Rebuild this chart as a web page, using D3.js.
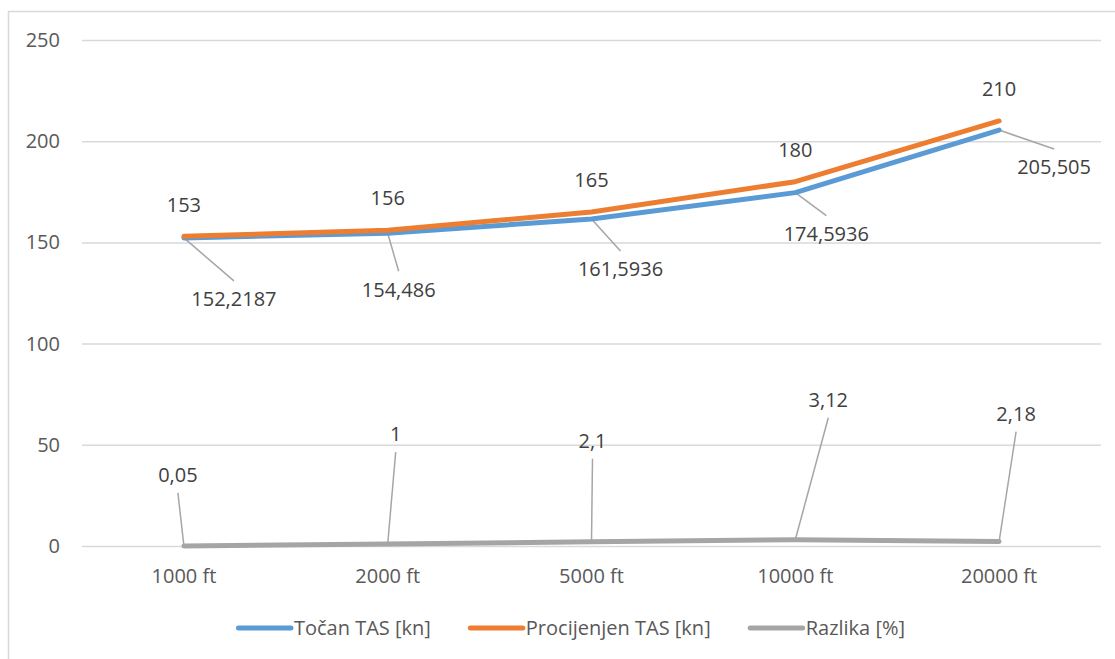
<!DOCTYPE html>
<html>
<head>
<meta charset="utf-8">
<script src="https://cdn.jsdelivr.net/npm/d3@7"></script>
<style>
  body { margin: 0; background: #fff; }
  svg text { font-family: "Open Sans", sans-serif; }
</style>
</head>
<body>
<svg id="chart"></svg>
<script>
// chart data
var categories = ["1000 ft", "2000 ft", "5000 ft", "10000 ft", "20000 ft"];
var tocanTAS = [152.2187, 154.486, 161.5936, 174.5936, 205.505];
var procijenjenTAS = [153, 156, 165, 180, 210];
var razlika = [0.05, 1, 2.1, 3.12, 2.18];
var tocanLabels = ["152,2187", "154,486", "161,5936", "174,5936", "205,505"];
var procijenjenLabels = ["153", "156", "165", "180", "210"];
var razlikaLabels = ["0,05", "1", "2,1", "3,12", "2,18"];
var seriesNames = ["Točan TAS [kn]", "Procijenjen TAS [kn]", "Razlika [%]"];
var yTicks = [0, 50, 100, 150, 200, 250];

// where excel put the (dragged) data labels, px offset from the point
var tocanOffsets = [[50, 61], [11, 56], [29, 50], [31, 41], [55, 37]];
var razlikaOffsets = [[-6, -71], [8, -110], [1, -101], [33, -140], [17, -128]];

var W = 1115, H = 659;
var margin = { left: 82, right: 14, top: 40, bottom: 113 };
var width = W - margin.left - margin.right,
  height = H - margin.top - margin.bottom;

var colors = ["#5b9bd5", "#ed7d31", "#a5a5a5"];

var svg = d3.select("#chart").attr("width", W).attr("height", H);

// outer chart border
svg.append("rect")
  .attr("x", 8.5).attr("y", 11.5)
  .attr("width", W + 20).attr("height", H + 20)
  .attr("fill", "none").attr("stroke", "#d9d9d9").attr("stroke-width", 1.5);

var g = svg.append("g").attr("transform", `translate(${margin.left},${margin.top})`);

var x = d3.scaleBand().domain(categories).range([0, width]).padding(0);
var y = d3.scaleLinear().domain([0, 250]).range([height, 0]);
var cx = (c) => x(c) + x.bandwidth() / 2;

// gridlines + y labels
g.append("g")
  .call(d3.axisLeft(y).tickValues(yTicks).tickSize(-width).tickPadding(22))
  .call((a) => a.select(".domain").remove())
  .call((a) => a.selectAll("line").attr("stroke", "#d9d9d9").attr("stroke-width", 1.5))
  .call((a) => a.selectAll("text").attr("fill", "#595959").style("font-size", "20px"));

// category labels
g.append("g")
  .attr("transform", `translate(0,${height})`)
  .call(d3.axisBottom(x).tickSize(0).tickPadding(23))
  .call((a) => a.select(".domain").remove())
  .call((a) => a.selectAll("text").attr("fill", "#595959").style("font-size", "20px"));

var line = d3.line().x((d) => cx(d.c)).y((d) => y(d.v));
var seriesData = [tocanTAS, procijenjenTAS, razlika].map((vals) =>
  vals.map((v, i) => ({ c: categories[i], v: v }))
);

// leader lines first so the series lines sit on top of them
function leaders(data, offsets) {
  g.append("g").selectAll("line")
    .data(data)
    .enter()
    .append("line")
    .attr("x1", (d) => cx(d.c))
    .attr("y1", (d) => y(d.v))
    .attr("x2", (d, i) => cx(d.c) + offsets[i][0])
    .attr("y2", (d, i) => y(d.v) + offsets[i][1] + (offsets[i][1] > 0 ? -18 : 18))
    .attr("stroke", "#a6a6a6")
    .attr("stroke-width", 1.5);
}
leaders(seriesData[0], tocanOffsets);
leaders(seriesData[2], razlikaOffsets);

seriesData.forEach((d, i) => {
  g.append("path")
    .datum(d)
    .attr("d", line)
    .attr("fill", "none")
    .attr("stroke", colors[i])
    .attr("stroke-width", 5)
    .attr("stroke-linecap", "round")
    .attr("stroke-linejoin", "round");
});

function labels(data, texts, offsets) {
  g.append("g").selectAll("text")
    .data(data)
    .enter()
    .append("text")
    .attr("x", (d, i) => cx(d.c) + offsets[i][0])
    .attr("y", (d, i) => y(d.v) + offsets[i][1])
    .attr("dy", "0.36em")
    .attr("text-anchor", "middle")
    .attr("fill", "#404040")
    .style("font-size", "20px")
    .text((d, i) => texts[i]);
}
labels(seriesData[0], tocanLabels, tocanOffsets);
labels(seriesData[1], procijenjenLabels, procijenjenTAS.map(() => [0, -32]));
labels(seriesData[2], razlikaLabels, razlikaOffsets);

// legend
var legend = svg.append("g").attr("transform", "translate(0,628)");
var lx = 0;
seriesNames.forEach((name, i) => {
  var item = legend.append("g").attr("transform", `translate(${lx},0)`);
  item.append("line")
    .attr("x1", 2.5).attr("x2", 55)
    .attr("stroke", colors[i]).attr("stroke-width", 5)
    .attr("stroke-linecap", "round");
  var t = item.append("text")
    .attr("x", 58).attr("dy", "0.36em")
    .attr("fill", "#595959")
    .style("font-size", "20px")
    .text(name);
  lx += 58 + t.node().getComputedTextLength() + 37;
});
lx -= 37;
legend.attr("transform", `translate(${570.5 - lx / 2},628)`);
</script>
</body>
</html>
